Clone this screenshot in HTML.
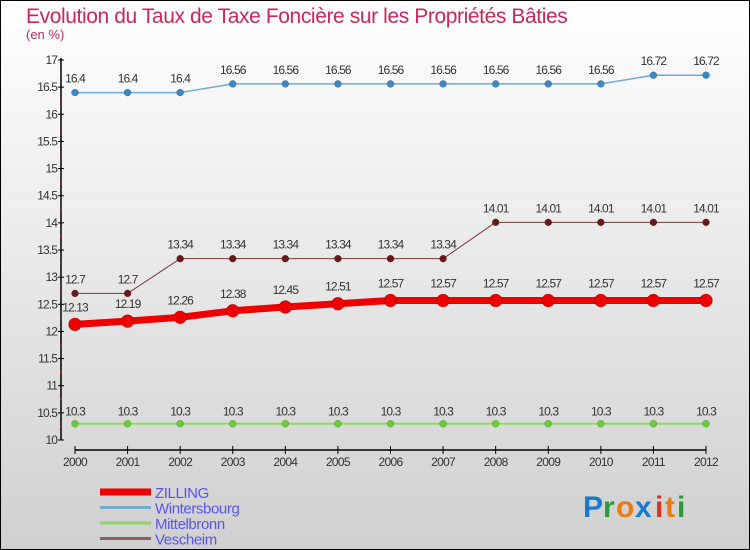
<!DOCTYPE html>
<html><head><meta charset="utf-8"><style>
html,body{margin:0;padding:0}
body{width:750px;height:550px;overflow:hidden;font-family:"Liberation Sans",sans-serif}
</style></head><body>
<svg id="chart" width="750" height="550" xmlns="http://www.w3.org/2000/svg" style="display:block">
<defs><linearGradient id="bg" x1="0" y1="0" x2="0" y2="1"><stop offset="0" stop-color="#ffffff"/><stop offset="1" stop-color="#d0d0d0"/></linearGradient></defs>
<rect x="0.5" y="0.5" width="749" height="549" fill="url(#bg)" stroke="#000"/>
<text x="26" y="23" font-size="21" fill="#c8285a" letter-spacing="-0.4">Evolution du Taux de Taxe Foncière sur les Propriétés Bâties</text>
<text x="26" y="39" font-size="13" fill="#c8285a">(en %)</text>
<g id="axes"></g><g id="series"></g><g id="legend"></g>
<g font-size="30" font-family="Liberation Sans,sans-serif" font-weight="bold">
<text x="583" y="517" fill="#1a7ad0">P</text><text x="603" y="517" fill="#2a9a3a">r</text><text x="616" y="517" fill="#f07a10">o</text><text x="635" y="517" fill="#1a7ad0">x</text><text x="655" y="517" fill="#e03020">i</text><text x="665" y="517" fill="#f07a10">t</text><text x="677" y="517" fill="#2a9a3a">i</text>
</g>
</svg>
<script>
const years=[2000,2001,2002,2003,2004,2005,2006,2007,2008,2009,2010,2011,2012];
const zilling=[12.13,12.19,12.26,12.38,12.45,12.51,12.57,12.57,12.57,12.57,12.57,12.57,12.57];
const wintersbourg=[16.4,16.4,16.4,16.56,16.56,16.56,16.56,16.56,16.56,16.56,16.56,16.72,16.72];
const mittelbronn=[10.3,10.3,10.3,10.3,10.3,10.3,10.3,10.3,10.3,10.3,10.3,10.3,10.3];
const vescheim=[12.7,12.7,13.34,13.34,13.34,13.34,13.34,13.34,14.01,14.01,14.01,14.01,14.01];
const yTicks=[10,10.5,11,11.5,12,12.5,13,13.5,14,14.5,15,15.5,16,16.5,17];
const NS="http://www.w3.org/2000/svg";
const X=i=>75+i*(706-75)/(years.length-1);
const Y=v=>440-(v-10)*(380/7);
function mk(p,t,a){const e=document.createElementNS(NS,t);for(const k in a)e.setAttribute(k,a[k]);p.appendChild(e);return e;}
const ax=document.getElementById('axes');
let l=mk(ax,'line',{x1:61,y1:58,x2:61,y2:440,stroke:'#000','stroke-width':1.5});


yTicks.forEach(v=>{
 mk(ax,'line',{x1:58,y1:Y(v),x2:64,y2:Y(v),stroke:'#000'});
 const t=mk(ax,'text',{x:57,y:Y(v)+4,'font-size':12,fill:'#333','text-anchor':'end','letter-spacing':'-0.9'});
 t.textContent=String(v);
 
 
 if(v<17) mk(ax,'line',{x1:60,y1:Y(v+0.25),x2:62,y2:Y(v+0.25),stroke:'#e02020'});
});
l=mk(ax,'line',{x1:X(0),y1:450,x2:X(years.length-1),y2:450,stroke:'#000','stroke-width':1.5});


years.forEach((y,i)=>{
 mk(ax,'line',{x1:X(i),y1:446,x2:X(i),y2:454,stroke:'#000'});
 const t=mk(ax,'text',{x:X(i),y:466,'font-size':12,fill:'#333','text-anchor':'middle','letter-spacing':'-0.7'});
 t.textContent=y;
 
 
});
const sg=document.getElementById('series');
function series(name,vals,color,dot,w,r,lblOff){
 const g=mk(sg,'g',{});
 
 
 mk(g,'polyline',{points:vals.map((v,i)=>X(i)+','+Y(v)).join(' '),fill:'none',stroke:color,'stroke-width':w,'stroke-linejoin':'round'});
 vals.forEach((v,i)=>{
  const c=mk(g,'circle',{cx:X(i),cy:Y(v),r:r,fill:dot,stroke:'rgba(0,0,0,0.3)','stroke-width':0.5});
  
  
  const t=mk(g,'text',{x:X(i),y:Y(v)-lblOff,'font-size':12,fill:'#333','text-anchor':'middle','letter-spacing':'-0.9'});
  t.textContent=String(v);
  
  
 });
}
series('mittelbronn',mittelbronn,'#8ed86a','#6ccc3a',2,3.5,8);
series('wintersbourg',wintersbourg,'#70a8d8','#3a88c8',1.5,3.5,10);
series('vescheim',vescheim,'#7a3a3a','#6a1818',1,3.5,10);
series('zilling',zilling,'#ee0000','#ee0000',7,6.5,13);
const lg=document.getElementById('legend');
const items=[['ZILLING','#ee0000',7],['Wintersbourg','#78a8cc',3],['Mittelbronn','#90d070',3],['Vescheim','#8a6060',3]];
items.forEach((it,i)=>{
 const y=492+i*15.5;
 const g=mk(lg,'g',{});
 
 
 mk(g,'line',{x1:100,y1:y,x2:151,y2:y,stroke:it[1],'stroke-width':it[2]});
 const t=mk(g,'text',{x:155,y:y+6,'font-size':15,fill:'#5555ee','letter-spacing':'-0.4'});
 t.textContent=it[0];
});
</script>
</body></html>
